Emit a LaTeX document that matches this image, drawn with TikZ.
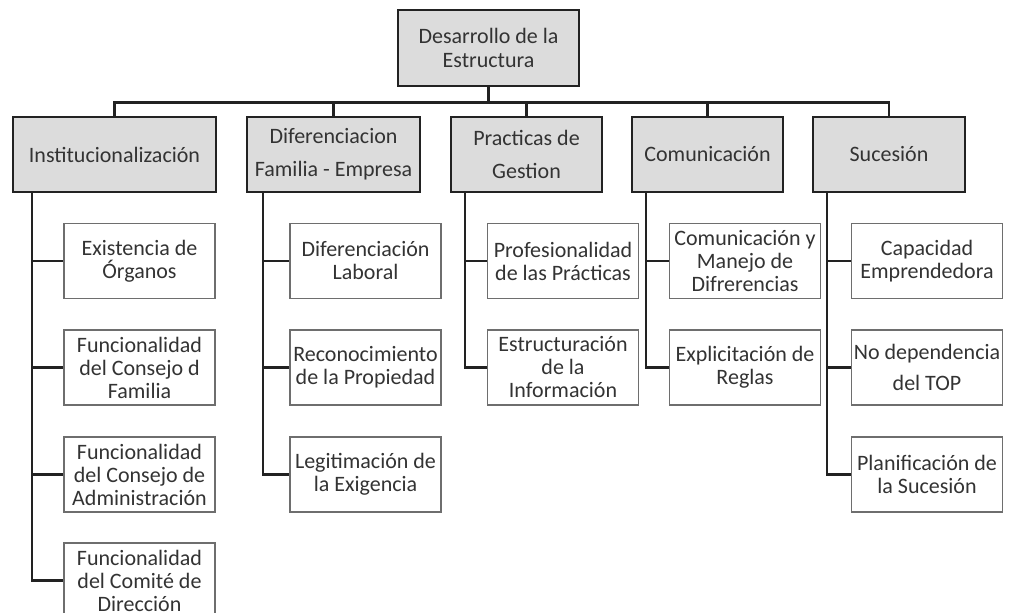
\documentclass[tikz,border=0pt]{standalone}
\usepackage{fontspec}
\setmainfont{Carlito}
\definecolor{txt}{HTML}{333333}
\definecolor{boxfill}{HTML}{DCDCDC}
\definecolor{linec}{HTML}{222222}
\definecolor{thinc}{HTML}{6E6E6E}
\begin{document}
\begin{tikzpicture}[x=1pt,y=-1pt,
  headbox/.style={draw=linec,line width=2.4pt,fill=boxfill,rectangle,inner sep=0pt,
    minimum height=75pt,align=center,text=txt,font=\fontsize{22}{24}\selectfont},
  leafbox/.style={draw=thinc,line width=1.1pt,fill=white,rectangle,inner sep=0pt,
    minimum width=151pt,minimum height=75pt,align=center,text=txt,font=\fontsize{22}{23}\selectfont},
  conn/.style={draw=linec,line width=2.6pt}]
\clip (0,0) rectangle (1010,613);
\fill[white] (0,0) rectangle (1010,613);

\node[headbox,minimum width=181pt,minimum height=76pt] (top) at (488.5,48) {Desarrollo de la\\Estructura};

\node[headbox,minimum width=203pt] (inst) at (114.5,154.5) {Institucionalización};
\node[headbox,minimum width=173pt,font=\fontsize{22}{33}\selectfont] (dif) at (333.5,154.5) {Diferenciacion\\Familia - Empresa};
\node[headbox,minimum width=151pt,font=\fontsize{22}{33}\selectfont] (prac) at (526.5,154.5) {Practicas de\\Gestion};
\node[headbox,minimum width=151pt] (com) at (707.5,154.5) {Comunicación};
\node[headbox,minimum width=152pt] (suc) at (889,154.5) {Sucesión};

\foreach \n in {inst,dif,prac,com,suc}
  \draw[conn] (top.south) -- ++(0,15) -| (\n.north);

% leaves
\node[leafbox] (i1) at (139.5,261) {Existencia de\\Órganos};
\node[leafbox] (i2) at (139.5,367.5) {Funcionalidad\\del Consejo d\\Familia};
\node[leafbox] (i3) at (139.5,474.5) {Funcionalidad\\del Consejo de\\Administración};
\node[leafbox] (i4) at (139.5,580.5) {Funcionalidad\\del Comité de\\Dirección};

\node[leafbox] (d1) at (365.5,261) {Diferenciación\\Laboral};
\node[leafbox] (d2) at (365.5,367.5) {Reconocimiento\\de la Propiedad};
\node[leafbox] (d3) at (365.5,474.5) {Legitimación de\\la Exigencia};

\node[leafbox] (p1) at (563,261) {Profesionalidad\\de las Prácticas};
\node[leafbox] (p2) at (563,367.5) {Estructuración\\de la\\Información};

\node[leafbox] (c1) at (745,261) {Comunicación y\\Manejo de\\Difrerencias};
\node[leafbox] (c2) at (745,367.5) {Explicitación de\\Reglas};

\node[leafbox] (s1) at (927,261) {Capacidad\\Emprendedora};
\node[leafbox,font=\fontsize{22}{31}\selectfont] (s2) at (927,367.5) {No dependencia\\del TOP};
\node[leafbox] (s3) at (927,474.5) {Planificación de\\la Sucesión};

\foreach \c in {i1,i2,i3,i4}
  \draw[conn] ([xshift=20pt]inst.south west) |- (\c.west);
\foreach \c in {d1,d2,d3}
  \draw[conn] ([xshift=17pt]dif.south west) |- (\c.west);
\foreach \c in {p1,p2}
  \draw[conn] ([xshift=15pt]prac.south west) |- (\c.west);
\foreach \c in {c1,c2}
  \draw[conn] ([xshift=15pt]com.south west) |- (\c.west);
\foreach \c in {s1,s2,s3}
  \draw[conn] ([xshift=15pt]suc.south west) |- (\c.west);
\end{tikzpicture}
\end{document}
